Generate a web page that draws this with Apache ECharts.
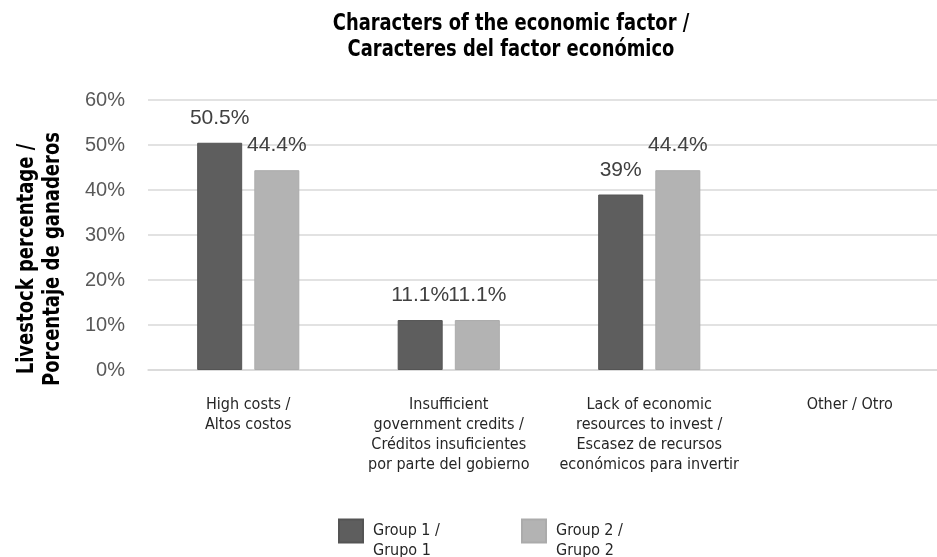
<!DOCTYPE html>
<html>
<head>
<meta charset="utf-8">
<script src="https://cdn.jsdelivr.net/npm/echarts@6/dist/echarts.min.js"></script>
<style>
  html, body { margin: 0; padding: 0; background: #ffffff; overflow: hidden; }
  /* the plot runs slightly past the right edge of the window */
  #chart { width: 950px; height: 557px; }
</style>
</head>
<body>
<div id="chart"></div>
<script>
// Economic factor categories (bilingual, wrapped as printed)
const categories = [
  'High costs /\nAltos costos',
  'Insufficient\ngovernment credits /\nCréditos insuficientes\npor parte del gobierno',
  'Lack of economic\nresources to invest /\nEscasez de recursos\neconómicos para invertir',
  'Other / Otro'
];
// Percentage of livestock farmers per group
const group1Values = [50.5, 11.1, 39, null];
const group2Values = [44.4, 11.1, 44.4, null];
const seriesNames = ['Group 1 /\nGrupo 1', 'Group 2 /\nGrupo 2'];
const yTicks = { min: 0, max: 60, interval: 10 };

const narrow = '"Liberation Sans Narrow", "Arial Narrow", "DejaVu Sans Condensed", sans-serif';
const regular = '"Liberation Sans", Arial, sans-serif';

const chart = echarts.init(document.getElementById('chart'), null, { renderer: 'canvas' });

const valueLabel = {
  show: true,
  position: 'top',
  distance: 14,
  fontFamily: regular,
  fontSize: 21,
  color: '#404040',
  formatter: p => (p.value == null ? '' : p.value + '%')
};

// legend entries: swatch sits level with the first text line
const legendItem = (name, left) => ({
  data: [name],
  left: left,
  top: 501,
  padding: 0,
  itemWidth: 24,
  itemHeight: 23,
  icon: 'rect',
  formatter: n => '\n' + n,
  textStyle: { fontFamily: narrow, fontSize: 16, lineHeight: 20, color: '#262626', padding: [0, 0, 0, 5] }
});

chart.setOption({
  backgroundColor: '#ffffff',
  animation: false,
  graphic: [
    {
      // chart title, squeezed horizontally to a condensed width
      type: 'text',
      x: 511,
      y: 37,
      scaleX: 0.865,
      style: {
        text: 'Characters of the economic factor /\nCaracteres del factor económico',
        font: 'bold 23px ' + narrow,
        lineHeight: 26,
        fill: '#000000',
        textAlign: 'center',
        textVerticalAlign: 'middle'
      }
    },
    {
      // value axis title, reading bottom to top
      type: 'text',
      x: 40,
      y: 259,
      rotation: Math.PI / 2,
      scaleX: 0.87,
      style: {
        text: 'Livestock percentage /\nPorcentaje de ganaderos',
        font: 'bold 23px ' + narrow,
        lineHeight: 26,
        fill: '#000000',
        textAlign: 'center',
        textVerticalAlign: 'middle'
      }
    }
  ],
  legend: [legendItem(seriesNames[0], 338), legendItem(seriesNames[1], 521)],
  grid: { left: 148, top: 100, right: 0, height: 270, containLabel: false },
  xAxis: {
    type: 'category',
    data: categories,
    axisLine: { show: true, lineStyle: { color: '#d9d9d9', width: 1.5 } },
    axisTick: { show: false },
    axisLabel: {
      interval: 0,
      margin: 25,
      fontFamily: narrow,
      fontSize: 16,
      lineHeight: 20,
      color: '#262626',
      align: 'center'
    }
  },
  yAxis: {
    type: 'value',
    min: yTicks.min,
    max: yTicks.max,
    interval: yTicks.interval,
    axisLine: { show: false },
    axisTick: { show: false },
    splitLine: { lineStyle: { color: '#d9d9d9', width: 1.5 } },
    axisLabel: {
      margin: 23,
      fontFamily: regular,
      fontSize: 20,
      color: '#595959',
      formatter: '{value}%'
    }
  },
  series: [
    {
      name: seriesNames[0],
      type: 'bar',
      data: group1Values,
      barWidth: 45,
      barGap: '27%',
      itemStyle: { color: '#5e5e5e', borderColor: '#545454', borderWidth: 1 },
      label: valueLabel
    },
    {
      name: seriesNames[1],
      type: 'bar',
      data: group2Values,
      barWidth: 45,
      barGap: '27%',
      itemStyle: { color: '#b3b3b3', borderColor: '#ababab', borderWidth: 1 },
      label: valueLabel
    }
  ]
});
</script>
</body>
</html>
